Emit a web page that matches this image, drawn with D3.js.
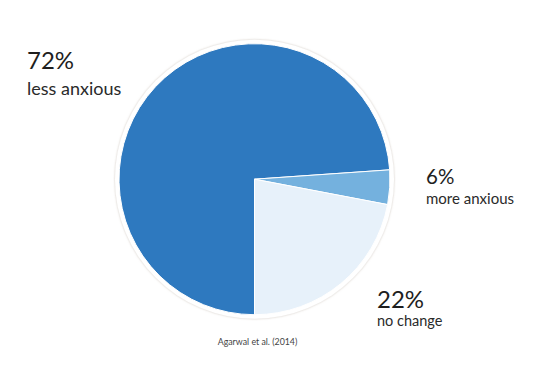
<!DOCTYPE html>
<html><head><meta charset="utf-8">
<script src="https://cdn.jsdelivr.net/npm/d3@7"></script>
<style>
html,body{margin:0;padding:0;background:#fff;}
svg{display:block;}
text{font-family:Lato,"Open Sans",sans-serif;}
</style></head>
<body>
<script>
// Data (slice sizes as drawn in the picture; label texts as printed)
const categories = ["less anxious", "more anxious", "no change"];
const sliceValues = [73.9, 4.1, 22];
const percentLabels = ["72%", "6%", "22%"];
const colors = ["#2e79bf", "#74b1de", "#e7f1fa"];
const source = "Agarwal et al. (2014)";

const W = 540, H = 381;
const cx = 254.5, cy = 179.2, r = 135.5;

const svg = d3.select("body").append("svg").attr("width", W).attr("height", H);

const defs = svg.append("defs");
const f = defs.append("filter").attr("id","sh").attr("x","-10%").attr("y","-10%").attr("width","120%").attr("height","120%");
f.append("feGaussianBlur").attr("in","SourceAlpha").attr("stdDeviation",1.3).attr("result","b");
f.append("feFlood").attr("flood-color","#a89888").attr("flood-opacity",0.55).attr("result","c");
f.append("feComposite").attr("in","c").attr("in2","b").attr("operator","in").attr("result","s");
const m = f.append("feMerge");
m.append("feMergeNode").attr("in","s");
m.append("feMergeNode").attr("in","SourceGraphic");

const g = svg.append("g").attr("transform", `translate(${cx},${cy})`);
g.append("circle").attr("r", r + 4).attr("fill", "#fff").attr("filter","url(#sh)");

const pie = d3.pie().sort(null).value(d => d.v).startAngle(Math.PI).endAngle(3 * Math.PI);
const data = categories.map((c, i) => ({c, v: sliceValues[i], col: colors[i], lab: percentLabels[i]}));
const arc = d3.arc().innerRadius(0).outerRadius(r);
g.selectAll("path").data(pie(data)).join("path")
  .attr("d", arc).attr("fill", d => d.data.col)
  .attr("stroke", "#fff").attr("stroke-width", 1);

// Labels: [x, pct baseline, pct size, name baseline, name size]
const labelPos = {
  "less anxious": [27, 69, 24, 95, 18],
  "more anxious": [426, 184, 20.5, 203.5, 15],
  "no change": [377, 308, 24, 326, 14.5]
};
data.forEach(d => {
  const p = labelPos[d.c];
  svg.append("text").attr("x", p[0]).attr("y", p[1]).attr("font-size", p[2]).attr("fill", "#1e1e1e").text(d.lab);
  svg.append("text").attr("x", p[0]).attr("y", p[3]).attr("font-size", p[4]).attr("fill", "#2a2a2a").text(d.c);
});

svg.append("text").attr("x", cx + 3).attr("y", 345).attr("text-anchor", "middle")
  .attr("font-size", 8.8).attr("fill", "#444").text(source);
</script>
</body></html>
